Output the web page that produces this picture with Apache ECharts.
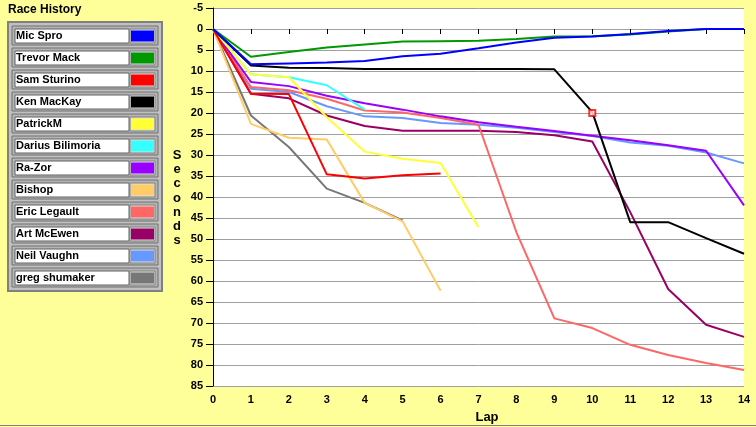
<!DOCTYPE html>
<html>
<head>
<meta charset="utf-8">
<script src="https://cdn.jsdelivr.net/npm/echarts@6/dist/echarts.min.js"></script>
<style>
  html, body { margin: 0; padding: 0; background: #ffff99; }
  #main { width: 756px; height: 427px; }
</style>
</head>
<body>
<div id="main"></div>
<script>
// laps 0..14, seconds behind leader
var laps = [0, 1, 2, 3, 4, 5, 6, 7, 8, 9, 10, 11, 12, 13, 14];
var yTicks = [-5, 0, 5, 10, 15, 20, 25, 30, 35, 40, 45, 50, 55, 60, 65, 70, 75, 80, 85];

var drivers = ["Mic Spro", "Trevor Mack", "Sam Sturino", "Ken MacKay", "PatrickM",
  "Darius Bilimoria", "Ra-Zor", "Bishop", "Eric Legault", "Art McEwen",
  "Neil Vaughn", "greg shumaker"];
var colors = ["#0000ff", "#009900", "#ff0000", "#000000", "#ffff33",
  "#33ffff", "#9900ff", "#ffcc66", "#ff6666", "#990066", "#6699ff", "#777777"];

var micSpro = [0, 8.4, 8.2, 8.0, 7.6, 6.5, 5.9, 4.6, 3.2, 2.1, 1.8, 1.2, 0.5, 0, 0];
var trevorMack = [0, 6.6, 5.5, 4.4, 3.7, 3.0, 2.9, 2.8, 2.4, 1.8, 1.7, 1.3, 0.6, 0, 0];
var samSturino = [0, 15.4, 15.5, 34.6, 35.6, 34.8, 34.4];
var kenMacKay = [0, 8.7, 9.2, 9.3, 9.5, 9.5, 9.5, 9.5, 9.5, 9.6, 19.8, 46, 46, 49.8, 53.5];
var patrickM = [0, 10.8, 11.5, 21, 29.2, 30.9, 31.9, 47.2];
var dariusBilimoria = [0, 10.8, 11.5, 13.4, 19.2];
var raZor = [0, 12.6, 13.6, 15.9, 17.7, 19.2, 20.8, 22.2, 23.3, 24.3, 25.4, 26.5, 27.7, 29.0, 42.0];
var bishop = [0, 22.6, 25.9, 26.3, 41.4, 45.8, 62.3];
var ericLegault = [0, 13.8, 14.6, 16.6, 19.4, 19.9, 21.2, 22.8, 48.4, 68.9, 71.2, 75.2, 77.6, 79.5, 81.2];
var artMcEwen = [0, 15.4, 16.5, 20.6, 23.1, 24.2, 24.2, 24.2, 24.5, 25.3, 26.8, 43.6, 61.9, 70.4, 73.3];
var neilVaughn = [0, 14.2, 15.0, 18.4, 20.8, 21.2, 22.4, 22.8, 23.5, 24.5, 25.5, 27.0, 27.8, 29.4, 32.0];
var gregShumaker = [0, 20.6, 28.1, 38.0, 41.4, 45.6];

var times = [micSpro, trevorMack, samSturino, kenMacKay, patrickM, dariusBilimoria,
  raZor, bishop, ericLegault, artMcEwen, neilVaughn, gregShumaker];

// cursor box on the plot
var cursorPoint = [10, 20];

var font = "Liberation Sans, Arial, sans-serif";

var series = drivers.map(function (name, i) {
  return {
    name: name,
    type: "line",
    data: times[i].map(function (v, k) { return [laps[k], v]; }),
    showSymbol: false,
    color: colors[i],
    lineStyle: { width: 2, color: colors[i] },
    itemStyle: { color: colors[i] },
    z: 30 - i
  };
});
series.push({
  name: "cursor",
  type: "scatter",
  data: [cursorPoint],
  symbol: "emptyRect",
  symbolSize: 6,
  itemStyle: { color: "#ff0000", borderColor: "#ff0000", borderWidth: 2 },
  z: 40
});

// legend panel frames
var panel = [
  { type: "rect", shape: { x: 8, y: 22, width: 154, height: 269 },
    style: { fill: "#c0c0c0", stroke: "#808080", lineWidth: 2 } }
];
drivers.forEach(function (d, i) {
  var y = 26 + 22 * i;
  panel.push({ type: "rect", shape: { x: 12, y: y, width: 146, height: 19 },
    style: { fill: "#b4b4b4", stroke: "#707070", lineWidth: 1 } });
  panel.push({ type: "rect", shape: { x: 15, y: y + 3, width: 114, height: 14 },
    style: { fill: "#ffffff", stroke: "#606060", lineWidth: 1 } });
  panel.push({ type: "rect", shape: { x: 130, y: y + 3, width: 25, height: 14 },
    style: { fill: "#e0e0e0", stroke: "#808080", lineWidth: 1 } });
});
panel.push({ type: "text", left: 8, top: 4,
  style: { text: "Race History", font: "bold 12px " + font, fill: "#000" } });
panel.push({ type: "text", x: 177, y: 198,
  style: { text: "S\ne\nc\no\nn\nd\ns", font: "bold 13px " + font, fill: "#000",
    lineHeight: 14.2, align: "center", verticalAlign: "middle" } });
panel.push({ type: "text", x: 487, y: 417,
  style: { text: "Lap", font: "bold 13px " + font, fill: "#000",
    align: "center", verticalAlign: "middle" } });
panel.push({ type: "line", shape: { x1: 0, y1: 425.5, x2: 756, y2: 425.5 },
  style: { stroke: "#808080", lineWidth: 1 } });

var chart = echarts.init(document.getElementById("main"));
chart.setOption({
  animation: false,
  backgroundColor: "#ffff99",
  grid: { left: 213, right: 12, top: 8, bottom: 41, show: true,
    backgroundColor: "#ffffff", borderWidth: 0 },
  legend: {
    data: drivers,
    orient: "vertical",
    left: 16,
    top: 30.5,
    padding: 0,
    align: "right",
    icon: "rect",
    itemWidth: 23,
    itemHeight: 11,
    itemGap: 11,
    selectedMode: false,
    formatter: "{n|{name}}",
    textStyle: {
      fontFamily: font, fontSize: 11, fontWeight: "bold", color: "#000", lineHeight: 11,
      rich: { n: { width: 110, align: "left", fontFamily: font, fontSize: 11,
        fontWeight: "bold", color: "#000", lineHeight: 11 } }
    }
  },
  xAxis: {
    type: "value",
    min: laps[0],
    max: laps[laps.length - 1],
    interval: 1,
    axisLine: { show: false },
    axisTick: { show: true, length: 5, lineStyle: { color: "#000" } },
    axisLabel: { margin: 8, fontFamily: font, fontSize: 11, fontWeight: "bold", color: "#000" },
    splitLine: { show: false }
  },
  yAxis: {
    type: "value",
    inverse: true,
    min: yTicks[0],
    max: yTicks[yTicks.length - 1],
    interval: 5,
    axisLine: { show: true, lineStyle: { color: "#000", width: 1 } },
    axisTick: { show: true, length: 7, lineStyle: { color: "#000" } },
    axisLabel: { margin: 10, fontFamily: font, fontSize: 11, fontWeight: "bold", color: "#000" },
    splitLine: { show: true, lineStyle: { color: "#a0a0a0", width: 1 } }
  },
  graphic: panel,
  series: series
});
</script>
</body>
</html>
